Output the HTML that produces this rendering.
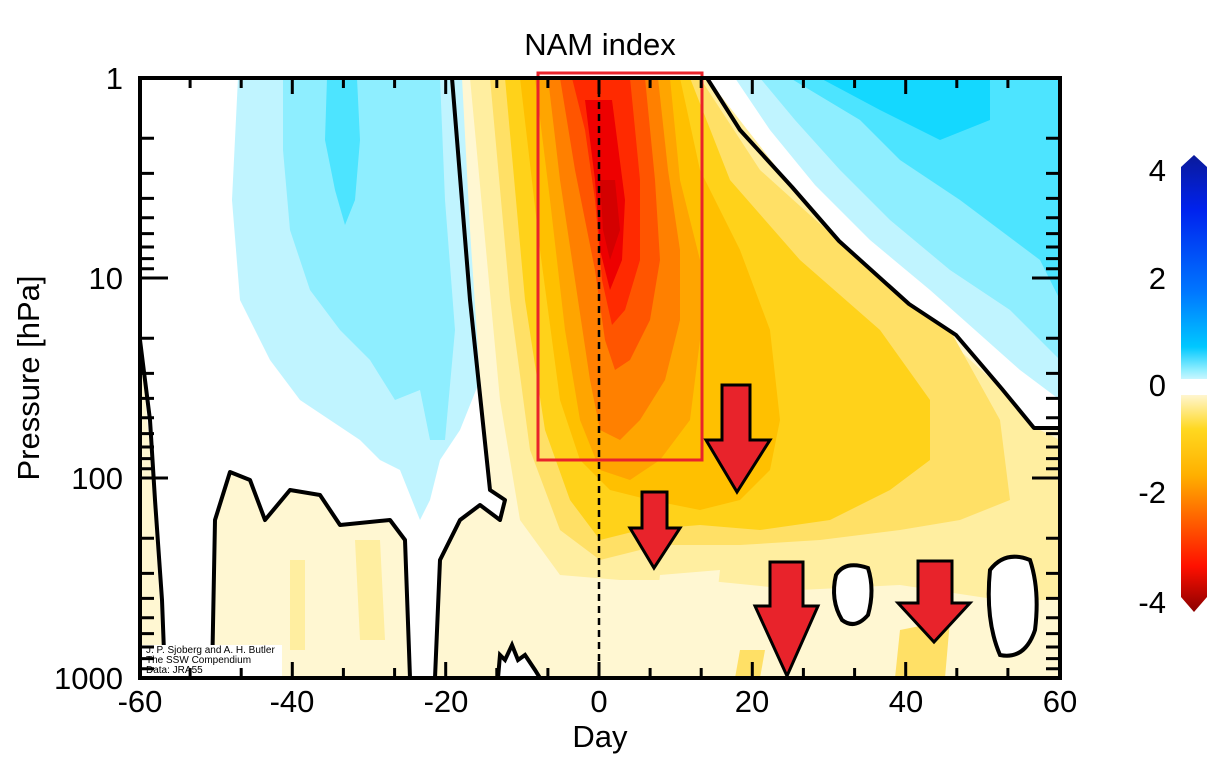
<!DOCTYPE html>
<html><head><meta charset="utf-8"><style>
body{margin:0;background:#fff;}
svg{display:block;font-family:"Liberation Sans",Arial,sans-serif;}
</style></head><body>
<svg width="1220" height="768" viewBox="0 0 1220 768" xmlns="http://www.w3.org/2000/svg">
<defs>
<clipPath id="pc"><rect x="140" y="78" width="920" height="600"/></clipPath>
<linearGradient id="cb" x1="0" y1="0" x2="0" y2="1">
<stop offset="0" stop-color="#0a1a9a"/>
<stop offset="0.12" stop-color="#0022ee"/>
<stop offset="0.3" stop-color="#0077ff"/>
<stop offset="0.42" stop-color="#00c8ff"/>
<stop offset="0.47" stop-color="#90eeff"/>
<stop offset="0.49" stop-color="#c8f6ff"/>
<stop offset="0.49" stop-color="#fff"/>
<stop offset="0.525" stop-color="#fff"/>
<stop offset="0.525" stop-color="#fff6d0"/>
<stop offset="0.6" stop-color="#ffd820"/>
<stop offset="0.7" stop-color="#ffb000"/>
<stop offset="0.8" stop-color="#ff6000"/>
<stop offset="0.9" stop-color="#ff1000"/>
<stop offset="1" stop-color="#8a0000"/>
</linearGradient>
</defs>
<text x="600" y="55" font-size="31" text-anchor="middle">NAM index</text>
<g clip-path="url(#pc)">
<rect x="140" y="78" width="920" height="600" fill="#fff7d2"/>
<path d="M470,78 L707,78 L792,187 L909,304 L1002,389 L1040,430 L1060,440 L1060,600 L1000,600 L900,585 L800,590 L700,580 L620,580 L560,575 L520,520 L500,400 Z" fill="#ffeea0"/>
<path d="M490,78 L700,78 L760,170 L860,260 L950,330 L1000,420 L1010,500 L960,520 L900,530 L820,540 L740,545 L660,545 L600,560 L560,530 L530,450 L510,300 Z" fill="#ffe066"/>
<path d="M505,78 L690,78 L730,180 L800,260 L880,330 L930,400 L930,460 L890,490 L830,520 L760,530 L700,525 L640,530 L600,540 L570,500 L545,430 L525,300 Z" fill="#ffd21a"/>
<path d="M520,78 L680,78 L700,170 L740,250 L770,330 L780,420 L770,470 L740,500 L700,510 L650,500 L610,490 L580,460 L560,400 L540,250 Z" fill="#ffc000"/>
<path d="M535,78 L670,78 L680,180 L700,260 L700,340 L690,420 L660,460 L630,480 L600,470 L580,420 L565,330 L550,200 Z" fill="#ffa500"/>
<path d="M548,78 L658,78 L668,170 L680,250 L680,320 L665,380 L640,420 L620,440 L600,430 L590,380 L575,280 L560,180 Z" fill="#ff8000"/>
<path d="M560,78 L645,78 L655,180 L660,260 L650,320 L630,360 L615,370 L605,340 L595,270 L575,170 Z" fill="#ff5500"/>
<path d="M572,78 L630,78 L640,180 L640,260 L625,310 L612,325 L602,280 L595,200 L585,130 Z" fill="#ff2a00"/>
<path d="M585,100 L612,100 L625,200 L622,260 L610,290 L600,250 L595,180 Z" fill="#ee0000"/>
<path d="M600,180 L615,180 L620,230 L610,260 L603,230 Z" fill="#d40000"/>
<path d="M660,575 L720,570 L712,640 L690,678 L650,678 L655,620 Z" fill="#fff7d2"/>
<path d="M900,630 L950,620 L945,678 L895,678 Z" fill="#ffe066"/>
<path d="M740,650 L765,650 L760,678 L735,678 Z" fill="#ffe066"/>
<path d="M355,540 L380,540 L385,640 L360,640 Z" fill="#ffeea0"/>
<path d="M290,560 L305,560 L305,650 L290,650 Z" fill="#ffeea0"/>
<path d="M140,78 L452,78 L470,300 L490,490 L505,500 L500,520 L480,505 L460,520 L440,560 L435,678 L410,678 L405,540 L390,520 L340,525 L320,495 L290,490 L265,520 L250,480 L230,472 L215,520 L212,678 L165,678 L150,450 L140,340 Z" fill="#fff"/>
<path d="M238,78 L462,78 L470,230 L480,380 L460,430 L440,460 L430,500 L420,520 L400,470 L380,460 L360,440 L330,420 L300,400 L270,360 L240,300 L232,200 Z" fill="#c0f4ff"/>
<path d="M283,78 L440,78 L445,200 L455,330 L445,440 L430,440 L420,390 L395,400 L370,360 L340,330 L310,290 L290,230 L283,150 Z" fill="#8eeeff"/>
<path d="M327,78 L357,78 L360,140 L355,200 L345,225 L335,190 L325,140 Z" fill="#4de4ff"/>
<path d="M707,78 L1060,78 L1060,428 L1034,428 L1002,389 L956,335 L909,304 L839,241 L792,187 Z" fill="#fff"/>
<path d="M735,78 L1060,78 L1060,400 L1020,370 L975,330 L930,290 L870,240 L815,185 L770,130 Z" fill="#c0f4ff"/>
<path d="M760,78 L1060,78 L1060,360 L1010,310 L950,270 L890,220 L840,170 L795,120 Z" fill="#8eeeff"/>
<path d="M790,78 L1060,78 L1060,300 L1040,260 L1000,230 L960,200 L900,160 L860,120 Z" fill="#4de4ff"/>
<path d="M820,78 L990,78 L990,120 L940,140 L880,110 Z" fill="#14d8ff"/>
<path d="M836,575 Q845,560 868,568 Q875,590 868,615 Q855,630 842,620 Q830,600 836,575 Z" fill="#fff" stroke="#000" stroke-width="4"/>
<path d="M990,570 Q1005,550 1030,560 Q1040,590 1035,630 Q1025,660 1000,655 Q985,620 990,570 Z" fill="#fff" stroke="#000" stroke-width="4"/>
<path d="M498,678 L500,655 L505,660 L512,645 L518,660 L525,655 L535,670 L540,678 Z" fill="#fff" stroke="#000" stroke-width="4"/>
<g fill="none" stroke="#000" stroke-width="4" stroke-linejoin="round">
<path d="M140,340 L150,420 L155,500 L162,600 L165,678"/>
<path d="M212,678 L215,520 L230,472 L250,480 L265,520 L290,490 L320,495 L340,525 L390,520 L405,540 L410,678"/>
<path d="M452,78 L470,300 L490,490 L505,500 L500,520 L480,505 L460,520 L440,560 L435,678"/>
<path d="M707,78 L740,130 L792,187 L839,241 L909,304 L956,335 L1002,389 L1034,428 L1060,428"/>
</g>
</g>
<line x1="599" y1="78" x2="599" y2="678" stroke="#000" stroke-width="2.5" stroke-dasharray="7,5"/>
<rect x="538" y="73" width="164" height="387" fill="none" stroke="#e8232b" stroke-width="3"/>
<g fill="#e8232b" stroke="#000" stroke-width="3" stroke-linejoin="miter">
<path d="M722,385 L750,385 L750,440 L770,440 L737,492 L706,440 L722,440 Z"/>
<path d="M642,492 L667,492 L667,528 L680,528 L654,568 L630,528 L642,528 Z"/>
<path d="M770,562 L803,562 L803,606 L818,606 L787,676 L755,606 L770,606 Z"/>
<path d="M918,561 L952,561 L952,603 L970,603 L934,642 L898,603 L918,603 Z"/>
</g>
<rect x="142" y="645" width="140" height="32" fill="#fff"/>
<text x="146" y="653" font-size="10">J. P. Sjoberg and A. H. Butler</text>
<text x="146" y="663" font-size="10">The SSW Compendium</text>
<text x="146" y="673" font-size="10">Data: JRA55</text>
<rect x="140" y="78" width="920" height="600" fill="none" stroke="#000" stroke-width="4"/>
<g stroke="#000" stroke-width="3">
<path d="M190.1,78v10M241.2,78v10M292.3,78v16M343.4,78v10M394.6,78v10M445.7,78v16M496.8,78v10M547.9,78v10M599,78v16M650.1,78v10M701.2,78v10M752.3,78v16M803.4,78v10M854.6,78v10M905.7,78v16M956.8,78v10M1007.9,78v10"/>
<path d="M190.1,678v-10M241.2,678v-10M292.3,678v-16M343.4,678v-10M394.6,678v-10M445.7,678v-16M496.8,678v-10M547.9,678v-10M599,678v-16M650.1,678v-10M701.2,678v-10M752.3,678v-16M803.4,678v-10M854.6,678v-10M905.7,678v-16M956.8,678v-10M1007.9,678v-10"/>
<path d="M140,138.2h14M140,173.4h14M140,198.4h14M140,217.8h14M140,233.6h14M140,247h14M140,258.6h14M140,268.8h14M140,278h28M140,338.2h14M140,373.4h14M140,398.4h14M140,417.8h14M140,433.6h14M140,447h14M140,458.6h14M140,468.8h14M140,478h28M140,538.2h14M140,573.4h14M140,598.4h14M140,617.8h14M140,633.6h14M140,647h14M140,658.6h14M140,668.8h14"/>
<path d="M1060,138.2h-14M1060,173.4h-14M1060,198.4h-14M1060,217.8h-14M1060,233.6h-14M1060,247h-14M1060,258.6h-14M1060,268.8h-14M1060,278h-28M1060,338.2h-14M1060,373.4h-14M1060,398.4h-14M1060,417.8h-14M1060,433.6h-14M1060,447h-14M1060,458.6h-14M1060,468.8h-14M1060,478h-28M1060,538.2h-14M1060,573.4h-14M1060,598.4h-14M1060,617.8h-14M1060,633.6h-14M1060,647h-14M1060,658.6h-14M1060,668.8h-14"/>
</g>
<g font-size="31" text-anchor="middle">
<text x="140" y="712">-60</text><text x="292" y="712">-40</text><text x="446" y="712">-20</text><text x="599" y="712">0</text><text x="752" y="712">20</text><text x="906" y="712">40</text><text x="1060" y="712">60</text>
<text x="600" y="747">Day</text>
</g>
<g font-size="31" text-anchor="end">
<text x="123" y="89">1</text><text x="123" y="289">10</text><text x="123" y="489">100</text><text x="123" y="689">1000</text>
</g>
<text transform="translate(39,378) rotate(-90)" font-size="31" text-anchor="middle">Pressure [hPa]</text>
<path d="M1181,167 L1194,155 L1207,167 L1207,597 L1194,612 L1181,597 Z" fill="url(#cb)"/>
<g font-size="31" text-anchor="end">
<text x="1166" y="181">4</text><text x="1166" y="289">2</text><text x="1166" y="396">0</text><text x="1166" y="503">-2</text><text x="1166" y="613">-4</text>
</g>
</svg>
</body></html>
